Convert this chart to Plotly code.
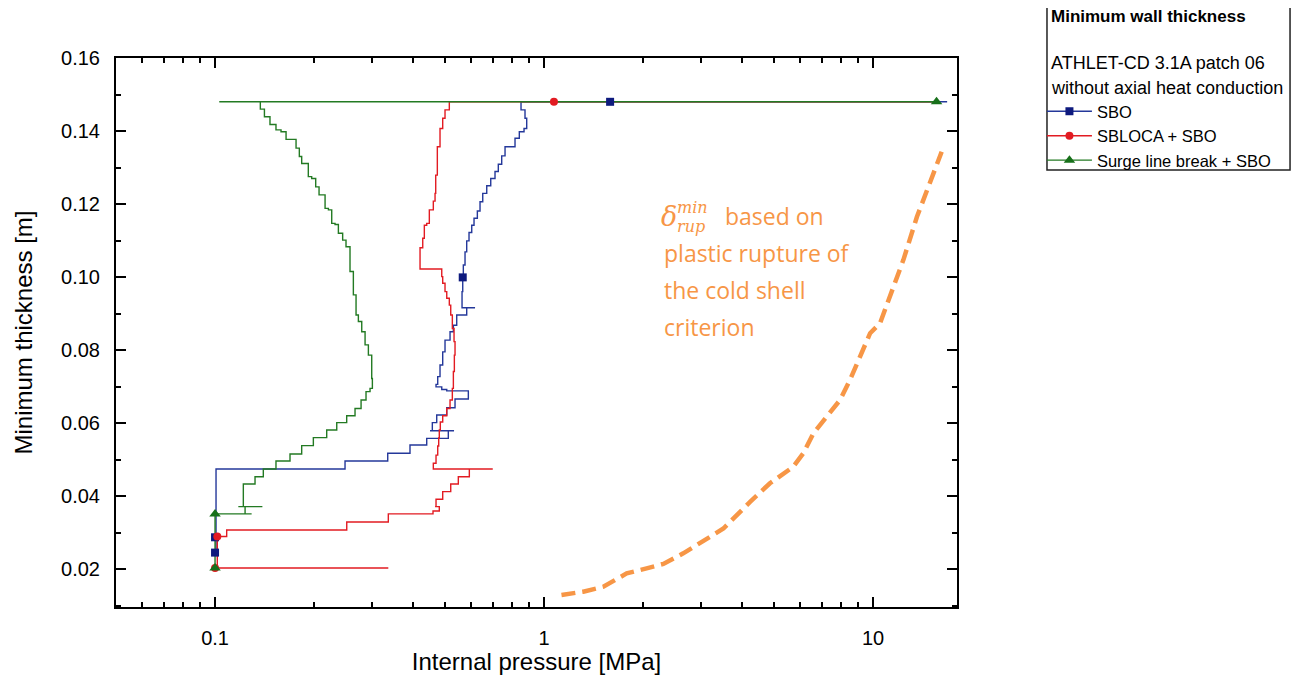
import plotly.graph_objects as go

# ---------------- data ----------------
# SBO (blue)
sbo_p = [16.8, 0.8513, 0.8754, 0.8859, 0.8694, 0.8412, 0.8163, 0.7612, 0.7437, 0.7262, 0.7096, 0.6887,
         0.6697, 0.6512, 0.6390, 0.6271, 0.6127, 0.6029, 0.5916, 0.5821, 0.5753, 0.5685, 0.5661, 0.5634,
         0.6171, 0.5821, 0.5428, 0.5302, 0.5180, 0.5001, 0.4921, 0.4829, 0.4752, 0.4696, 0.4888, 0.5062,
         0.5205, 0.5888, 0.5364, 0.5062, 0.4719, 0.4576, 0.4503, 0.5327, 0.5118, 0.4400, 0.3914, 0.3349,
         0.2484, 0.1007, 0.1007, 0.1007]
sbo_t = [0.148, 0.148, 0.1458, 0.1435, 0.1407, 0.1398, 0.1380, 0.1357, 0.1332, 0.1309, 0.1289, 0.1270,
         0.1250, 0.1229, 0.1206, 0.1181, 0.1161, 0.1142, 0.1122, 0.1099, 0.1069, 0.1033, 0.0999, 0.0960,
         0.0916, 0.0916, 0.0896, 0.0868, 0.0850, 0.0827, 0.0795, 0.0759, 0.0727, 0.0706, 0.0699, 0.0692,
         0.0688, 0.0688, 0.0666, 0.0642, 0.0622, 0.0601, 0.0579, 0.0579, 0.0579, 0.0558, 0.0540, 0.0517,
         0.0496, 0.0474, 0.0287, 0.0245]
sbo_mk_p = [1.588, 0.5661, 0.1, 0.1]
sbo_mk_t = [0.148, 0.0999, 0.0287, 0.0245]

# SBLOCA + SBO (red)
sbloca_p = [15.6, 0.5154, 0.5001, 0.4921, 0.4829, 0.4739, 0.4686, 0.4664, 0.4608, 0.4481, 0.4400, 0.4327,
            0.4279, 0.4199, 0.4888, 0.4921, 0.5001, 0.5062, 0.5154, 0.5205, 0.5264, 0.5327, 0.5364, 0.5339,
            0.5302, 0.5264, 0.5180, 0.5062, 0.4921, 0.4839, 0.4805, 0.4785, 0.4752, 0.4696, 0.4608, 0.6985,
            0.5929, 0.5489, 0.5205, 0.4921, 0.4696, 0.4664, 0.4805, 0.4598, 0.4450, 0.3363, 0.2514, 0.1085,
            0.1016, 0.1007, 0.3363]
sbloca_t = [0.148, 0.148, 0.1458, 0.1435, 0.1407, 0.1357, 0.1279, 0.1229, 0.1208, 0.1184, 0.1147, 0.1142,
            0.1106, 0.1080, 0.1022, 0.1001, 0.0983, 0.0960, 0.0942, 0.0923, 0.0896, 0.0859, 0.0823, 0.0786,
            0.0741, 0.0695, 0.0663, 0.0640, 0.0620, 0.0603, 0.0581, 0.0559, 0.0537, 0.0512, 0.0490, 0.0474,
            0.0474, 0.0453, 0.0433, 0.0412, 0.0391, 0.0371, 0.0371, 0.0359, 0.0351, 0.0351, 0.0329, 0.0307,
            0.0289, 0.0203, 0.0203]
sbloca_mk_p = [1.072, 0.1016, 0.1]
sbloca_mk_t = [0.148, 0.0289, 0.0203]

# Surge line break + SBO (green)
surge_p = [15.6, 0.103, 0.1373, 0.1413, 0.1469, 0.1532, 0.1587, 0.1644, 0.1763, 0.1804, 0.1834, 0.1921,
           0.1967, 0.2023, 0.2071, 0.2160, 0.2211, 0.2263, 0.2316, 0.2371, 0.2443, 0.2501, 0.2572, 0.2633,
           0.2683, 0.2727, 0.2792, 0.2858, 0.2925, 0.2994, 0.3008, 0.2959, 0.2877, 0.2779, 0.2664, 0.2513,
           0.2344, 0.2185, 0.1990, 0.1834, 0.1690, 0.1532, 0.1402, 0.1323, 0.1219, 0.1393, 0.1177, 0.1234,
           0.1234, 0.1292, 0.1, 0.1]
surge_t = [0.148, 0.148, 0.148, 0.1460, 0.1439, 0.1418, 0.1403, 0.1398, 0.1377, 0.1353, 0.1330, 0.1311,
           0.1275, 0.1270, 0.1247, 0.1225, 0.1188, 0.1184, 0.1147, 0.1144, 0.1120, 0.1101, 0.1083, 0.1015,
           0.0951, 0.0896, 0.0878, 0.0850, 0.0814, 0.0786, 0.0722, 0.0695, 0.0686, 0.0663, 0.0640, 0.0620,
           0.0601, 0.0581, 0.0560, 0.0538, 0.0515, 0.0496, 0.0474, 0.0453, 0.0433, 0.0371, 0.0371, 0.0371,
           0.0351, 0.0351, 0.0351, 0.0203]
surge_mk_p = [15.6, 0.1, 0.1]
surge_mk_t = [0.148, 0.0351, 0.0203]

# delta_rup^min criterion (orange dashed)
rup_p = [1.13, 1.316, 1.515, 1.783, 2.05, 2.305, 2.65, 3.51, 4.23, 4.86, 5.72, 6.14, 6.59, 7.94, 8.51,
         9.80, 10.5, 11.27, 12.37, 13.6, 16.17]
rup_t = [0.0129, 0.0138, 0.01515, 0.0188, 0.0202, 0.0214, 0.0243, 0.0311, 0.0384, 0.0435, 0.0480, 0.0517,
         0.0572, 0.0663, 0.0718, 0.0846, 0.0873, 0.0946, 0.1047, 0.1165, 0.1343]

x_major = [0.1, 1, 10]
x_major_text = ["0.1", "1", "10"]
x_minor = [0.06, 0.07, 0.08, 0.09, 0.2, 0.3, 0.4, 0.5, 0.6, 0.7, 0.8, 0.9, 2, 3, 4, 5, 6, 7, 8, 9]
y_major = [0.02, 0.04, 0.06, 0.08, 0.10, 0.12, 0.14, 0.16]
y_minor = [0.01, 0.03, 0.05, 0.07, 0.09, 0.11, 0.13, 0.15]

series = [
    ("SBO", sbo_p, sbo_t, sbo_mk_p, sbo_mk_t, "#24389A", "#0E1A7E", "square", 8),
    ("SBLOCA + SBO", sbloca_p, sbloca_t, sbloca_mk_p, sbloca_mk_t, "#E21B22", "#E21B22", "circle", 8),
    ("Surge line break + SBO", surge_p, surge_t, surge_mk_p, surge_mk_t, "#237A23", "#17701A", "triangle-up", 10),
]

ORANGE = "#F79646"
FONT = "Liberation Sans, Arial, sans-serif"

fig = go.Figure()

fig.add_trace(go.Scatter(x=rup_p, y=rup_t, mode="lines", showlegend=False,
                         line=dict(color=ORANGE, width=4.5, dash="14px,7px"), hoverinfo="skip"))

for name, px, py, mx, my, lc, mc, sym, ms in series:
    fig.add_trace(go.Scatter(x=px, y=py, mode="lines", line=dict(color=lc, width=1.4, shape="vh"),
                             showlegend=False, name=name))
for name, px, py, mx, my, lc, mc, sym, ms in series:
    fig.add_trace(go.Scatter(x=mx, y=my, mode="markers", showlegend=False, name=name,
                             marker=dict(symbol=sym, size=ms, color=mc, line=dict(width=0))))
for name, px, py, mx, my, lc, mc, sym, ms in series:
    fig.add_trace(go.Scatter(x=[None], y=[None], mode="lines+markers", name=name,
                             line=dict(color=lc, width=1.4),
                             marker=dict(symbol=sym, size=ms, color=mc, line=dict(width=0))))

axis_common = dict(showline=True, linecolor="black", linewidth=2, mirror="allticks",
                   ticks="inside", ticklen=10, tickwidth=1.5, tickcolor="black",
                   showgrid=False, zeroline=False, automargin=False,
                   tickfont=dict(family=FONT, size=20, color="black"))

fig.update_xaxes(type="log", range=[-1.30103, 1.2553], tickmode="array", tickvals=x_major,
                 ticktext=x_major_text, ticklabelstandoff=12,
                 minor=dict(tickmode="array", tickvals=x_minor, ticks="inside", ticklen=5,
                            tickwidth=1.5, tickcolor="black"),
                 title=dict(text="Internal pressure [MPa]", font=dict(family=FONT, size=24, color="black"),
                            standoff=8),
                 **axis_common)
fig.update_yaxes(range=[0.0096, 0.16], tickmode="array", tickvals=y_major, tickformat=".2f",
                 ticklabelstandoff=10,
                 minor=dict(tickmode="array", tickvals=y_minor, ticks="inside", ticklen=5,
                            tickwidth=1.5, tickcolor="black"),
                 title=dict(text="Minimum thickness [m]", font=dict(family=FONT, size=24, color="black"),
                            standoff=22),
                 **axis_common)

# orange annotation text
TXT = "Open Sans, Noto Sans, sans-serif"
ann = [
    dict(text="<i>δ</i>", x=0.6576, y=0.7122, xanchor="center", size=27, fam="DejaVu Serif, serif"),
    dict(text="<i>min</i>", x=0.6645, y=0.7280, xanchor="left", size=16, fam="DejaVu Serif, serif"),
    dict(text="<i>rup</i>", x=0.6645, y=0.6930, xanchor="left", size=16, fam="DejaVu Serif, serif"),
    dict(text="based on", x=0.7218, y=0.7122, xanchor="left", size=23, fam=TXT),
    dict(text="plastic rupture of", x=0.6492, y=0.6448, xanchor="left", size=23, fam=TXT),
    dict(text="the cold shell", x=0.6492, y=0.5774, xanchor="left", size=23, fam=TXT),
    dict(text="criterion", x=0.6492, y=0.5100, xanchor="left", size=23, fam=TXT),
]
for a in ann:
    fig.add_annotation(text=a["text"], x=a["x"], y=a["y"], xref="paper", yref="paper",
                       xanchor=a["xanchor"], yanchor="middle", showarrow=False,
                       font=dict(family=a["fam"], size=a["size"], color=ORANGE))

# legend header block
fig.add_shape(type="rect", xref="paper", yref="paper", x0=1.1070, x1=1.3960, y0=0.796, y1=1.1002,
              line=dict(color="#222222", width=1.5), fillcolor="rgba(0,0,0,0)")
hdr = [
    ("<b>Minimum wall thickness</b>", 1.0747, 17),
    ("ATHLET-CD 3.1A patch 06", 0.9909, 18),
    ("without axial heat conduction", 0.9454, 18),
]
for t, yy, s in hdr:
    fig.add_annotation(text=t, x=1.1094, y=yy, xref="paper", yref="paper", xanchor="left",
                       yanchor="middle", showarrow=False, font=dict(family=FONT, size=s, color="black"))

# the page body adds an 8 px offset: keep the page height within the window
fig.update_layout(
    width=1293, height=667,
    margin=dict(l=108, r=344, t=50, b=68, autoexpand=False),
    paper_bgcolor="white", plot_bgcolor="white",
    font=dict(family=FONT, color="black"),
    legend=dict(x=1.101, y=0.9344, xanchor="left", yanchor="top", bgcolor="rgba(0,0,0,0)",
                borderwidth=0, font=dict(family=FONT, size=16.5, color="black"), itemwidth=45,
                tracegroupgap=0),
)

fig.write_html("out.html")
